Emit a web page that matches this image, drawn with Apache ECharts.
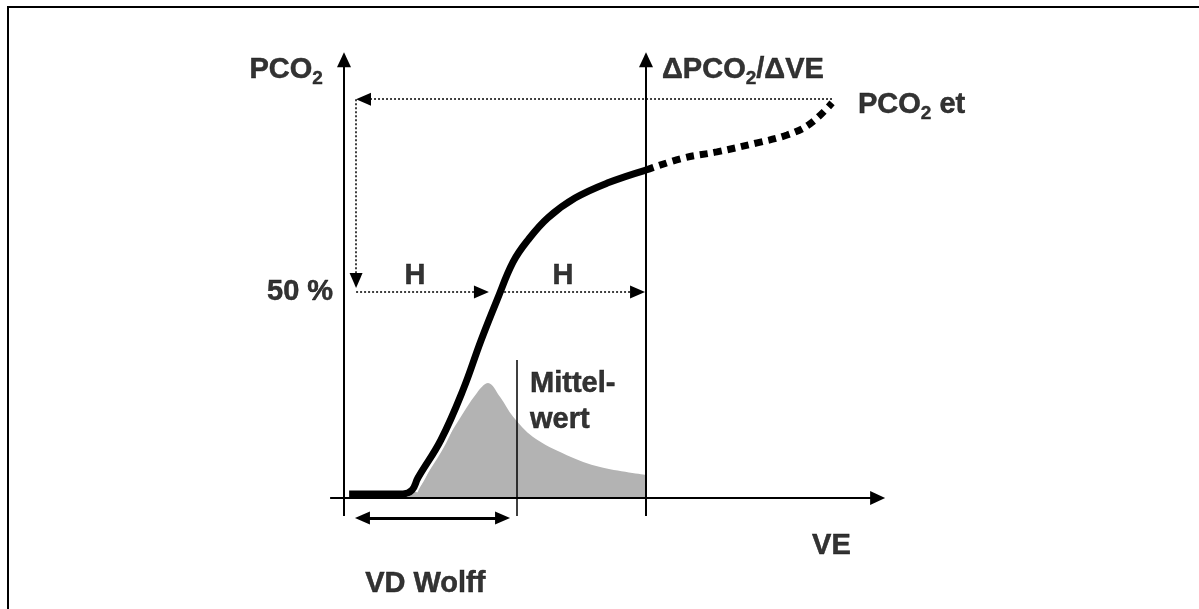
<!DOCTYPE html>
<html><head><meta charset="utf-8">
<script src="https://cdn.jsdelivr.net/npm/echarts@6/dist/echarts.min.js"></script>
<style>html,body{margin:0;padding:0;background:#fff}#c{width:1199px;height:609px}</style>
</head><body><div id="c"></div>
<script>
// Schematic units: x = VE (0 at PCO2 axis, 100 at ΔPCO2/ΔVE axis); y = PCO2 in % (0 at baseline, 50 = half)
const pco2Solid  = [[1.7,1],[19.5,1],[22.5,1.9],[24.5,4.9],[32.1,14.1],[39.4,26.2],[45.4,38.3],[50.7,48.1],[56.0,57.3],[60.9,62.6],[67.5,68.0],[76.5,72.8],[87.4,76.5],[100,79.6]];
const pco2Dashed = [[100,79.6],[112.3,82.5],[123.5,84.0],[136.8,86.2],[146.7,88.1],[154.3,90.8],[161.6,95.9]];
const slopeArea  = [[20.5,0],[25,2.5],[29.5,8.5],[37.4,18.2],[44,25.5],[47.7,27.9],[51.7,24.5],[56,19.7],[62.6,14.8],[73.8,10.4],[84.8,7.5],[100,5.6]];

// line segments [x1, y1, x2, y2, arrowAtStart, arrowAtEnd]
const axisLines  = [[0,-4.37,0,106.4,0,1],[100,-4.37,100,106.4,0,1],[-4.6,0,176.7,0,0,1]];
const meanLine   = [[57.3,33.5,57.3,-4.37,0,0]];
const guideLines = [[161.6,96.8,6.46,96.8,0,1],[4.0,96.8,4.0,52.8,0,1],[4.0,50,45.5,50,0,1],[53.0,50,97.2,50,0,1]];
const vdLine     = [[6.1,-4.85,52.5,-4.85,1,1]];

// texts
const labelTexts = ['{t|PCO}{u|2}', '{t|ΔPCO}{u|2}{t|/ΔVE}', '{t|PCO}{u|2}{t| et}', '{t|50 %}', '{t|H}', '{t|H}', '{t|Mittel-}\n{t|wert}', '{t|VE}', '{t|VD Wolff}'];
const labelAnchor = [[-7.0,103.9,'right'],[105.3,103.9,'left'],[170.2,95.4,'left'],[-3.6,50.0,'right'],[23.5,53.9,'center'],[72.5,53.9,'center'],[61.6,23.2,'left'],[155.0,-11.6,'left'],[7.0,-20.8,'left']];

// calibration of the plotting area (pixels per unit)
const PX0 = 344, PXU = 3.02, PY0 = 498, PYU = 4.12, W = 1199, H = 609;

const FONT = "'Liberation Sans', Arial, Helvetica, sans-serif";
const rich = {
  t: {fontFamily: FONT, fontWeight: 'bold', fontSize: 29, color: '#000', lineHeight: 36, textBorderColor: '#000', textBorderWidth: 0.5},
  u: {fontFamily: FONT, fontWeight: 'bold', fontSize: 19, color: '#000', lineHeight: 24, verticalAlign: 'bottom', textBorderColor: '#000', textBorderWidth: 0.4}
};

function segs(list, size) {
  return list.map(([x1,y1,x2,y2,a1,a2]) => [
    {coord: [x1,y1], symbol: a1 ? 'triangle' : 'none', symbolSize: size},
    {coord: [x2,y2], symbol: a2 ? 'triangle' : 'none', symbolSize: size}
  ]);
}
function markSeries(list, lineStyle, size) {
  return {
    type: 'line', data: [], silent: true,
    markLine: {silent: true, animation: false, label: {show: false}, emphasis: {disabled: true},
      lineStyle: Object.assign({color: '#000', opacity: 1}, lineStyle),
      itemStyle: {color: '#000'},
      data: segs(list, size)}
  };
}

const chart = echarts.init(document.getElementById('c'), null, {renderer: 'canvas'});
chart.setOption({
  animation: false,
  backgroundColor: '#fff',
  grid: {left: 0, right: 0, top: 0, bottom: 0, containLabel: false},
  xAxis: {type: 'value', min: -PX0 / PXU, max: (W - PX0) / PXU, show: false},
  yAxis: {type: 'value', min: -(H - PY0) / PYU, max: PY0 / PYU, show: false},
  graphic: [{type: 'rect', shape: {x: 8, y: 7, width: 1400, height: 800}, style: {fill: null, stroke: '#000', lineWidth: 2}, silent: true}],
  series: [
    {type: 'line', data: slopeArea, smooth: 0.35, symbol: 'none', silent: true, z: 1,
     lineStyle: {width: 0}, areaStyle: {color: '#b3b3b3', opacity: 1}},
    {type: 'line', data: pco2Solid.slice(2, 9), smooth: 0.4, symbol: 'none', silent: true, z: 2,
     lineStyle: {color: '#fff', width: 12}},
    {type: 'line', data: pco2Solid, smooth: 0.4, symbol: 'none', silent: true, z: 3,
     lineStyle: {color: '#000', width: 7, cap: 'butt', join: 'round'}},
    {type: 'line', data: pco2Dashed, smooth: 0.4, symbol: 'none', silent: true, z: 3,
     lineStyle: {color: '#000', width: 7, type: [8, 6], cap: 'butt'}},
    markSeries(axisLines, {width: 2, type: 'solid'}, [14, 15]),
    markSeries(meanLine, {width: 1.5, type: 'solid'}, [1, 1]),
    markSeries(guideLines, {width: 1.5, type: [2, 2]}, [13, 15]),
    markSeries(vdLine, {width: 3, type: 'solid'}, [13, 15]),
    {type: 'scatter', silent: true, z: 10, symbolSize: 1, itemStyle: {color: 'rgba(0,0,0,0)'},
     data: labelAnchor.map(([x, y, a]) => ({value: [x, y], label: {align: a}})),
     label: {show: true, position: 'inside', verticalAlign: 'middle', color: '#000', rich: rich,
       formatter: p => labelTexts[p.dataIndex]}}
  ]
});
</script></body></html>
